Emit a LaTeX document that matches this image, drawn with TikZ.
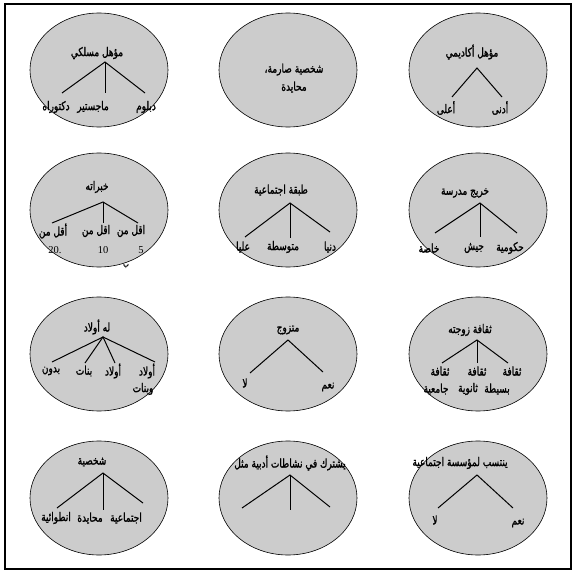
\documentclass[tikz,border=0pt]{standalone}
\usepackage{fontspec}
\setmainfont{Liberation Serif}
\newfontfamily\arabicfont[Script=Arabic,FakeStretch=0.75,FakeBold=1.3]{DejaVu Sans}
\TeXXeTstate=1
\usetikzlibrary{shapes.geometric}
\newcommand{\artxt}[1]{{\arabicfont\beginR #1\endR}}

\begin{document}
\begin{tikzpicture}[x=1pt,y=-1pt,
  cell/.style={ellipse,draw,line width=0.6pt,fill=black!20,minimum width=138pt,minimum height=114pt,inner sep=0pt},
  head/.style={font=\fontsize{12}{13}\selectfont,inner sep=1pt},
  leaf/.style={font=\fontsize{12}{13}\selectfont,inner sep=1pt},
  num/.style={font=\fontsize{10.5}{12}\selectfont,inner sep=1pt},
  branch/.style={line width=1pt},
  stem/.style={line width=0.6pt}]
  \useasboundingbox (0,0) rectangle (576,575);
  \draw[line width=1.3pt] (5,4) rectangle (571,569);

  % row 1
  \node[cell] (c1) at (99,70) {};
  \node[head] (t1) at (97,53) {\artxt{مؤهل مسلكي}};
  \coordinate (a1) at (105,62);
  \coordinate (e1a) at (62,93);
  \coordinate (e1b) at (105,93);
  \coordinate (e1c) at (145,93);
  \draw[branch] (e1a) -- (a1) -- (e1c);
  \draw[stem] (a1) -- (e1b);
  \node[leaf] (l1a) at (56,107) {\artxt{دكتوراه}};
  \node[leaf] (l1b) at (93,107) {\artxt{ماجستير}};
  \node[leaf] (l1c) at (146,107) {\artxt{دبلوم}};

  \node[cell] (c2) at (288,70) {};
  \node[head,align=center] (t2) at (294,78) {\artxt{شخصية صارمة،}\\[5pt]\artxt{محايدة}};

  \node[cell] (c3) at (478,70) {};
  \node[head] (t3) at (472,52) {\artxt{مؤهل أكاديمي}};
  \coordinate (a3) at (477,68);
  \coordinate (e3a) at (452,97);
  \coordinate (e3b) at (502,97);
  \draw[branch] (e3a) -- (a3) -- (e3b);
  \node[leaf] (l3a) at (446,108) {\artxt{أعلى}};
  \node[leaf] (l3b) at (500,108) {\artxt{أدنى}};

  % row 2
  \node[cell] (c4) at (99,210) {};
  \node[head] (t4) at (97,187) {\artxt{خبراته}};
  \coordinate (a4) at (103,202);
  \coordinate (e4a) at (52,223);
  \coordinate (e4b) at (103,223);
  \coordinate (e4c) at (138,223);
  \draw[branch] (e4a) -- (a4) -- (e4c);
  \draw[stem] (a4) -- (e4b);
  \node[leaf] (l4a) at (53,231) {\artxt{أقل من}};
  \node[leaf] (l4b) at (96,231) {\artxt{اقل من}};
  \node[leaf] (l4c) at (131,231) {\artxt{اقل من}};
  \node[num] (n4a) at (55,250) {20.};
  \node[num] (n4b) at (103,250) {10};
  \node[num] (n4c) at (141,250) {5};
  \node[leaf,font=\fontsize{8}{9}\selectfont] (n4d) at (126,266) {\artxt{ب}};

  \node[cell] (c5) at (288,210) {};
  \node[head] (t5) at (281,190) {\artxt{طبقة اجتماعية}};
  \coordinate (a5) at (290,203);
  \coordinate (e5a) at (245,237);
  \coordinate (e5b) at (290,238);
  \coordinate (e5c) at (330,232);
  \draw[branch] (e5a) -- (a5) -- (e5c);
  \draw[stem] (a5) -- (e5b);
  \node[leaf] (l5a) at (243,247) {\artxt{عليا}};
  \node[leaf] (l5b) at (283,247) {\artxt{متوسطة}};
  \node[leaf] (l5c) at (330,247) {\artxt{دنيا}};

  \node[cell] (c6) at (478,210) {};
  \node[head] (t6) at (465,193) {\artxt{خريج مدرسة}};
  \coordinate (a6) at (480,203);
  \coordinate (e6a) at (435,233);
  \coordinate (e6b) at (480,237);
  \coordinate (e6c) at (517,233);
  \draw[branch] (e6a) -- (a6) -- (e6c);
  \draw[stem] (a6) -- (e6b);
  \node[leaf] (l6a) at (429,248) {\artxt{خاصة}};
  \node[leaf] (l6b) at (474,248) {\artxt{جيش}};
  \node[leaf] (l6c) at (510,248) {\artxt{حكومية}};

  % row 3
  \node[cell] (c7) at (99,354) {};
  \node[head] (t7) at (97,327) {\artxt{له أولاد}};
  \coordinate (a7) at (103,337);
  \coordinate (e7a) at (52,362);
  \coordinate (e7b) at (85,363);
  \coordinate (e7c) at (115,363);
  \coordinate (e7d) at (155,362);
  \draw[branch] (e7a) -- (a7) -- (e7d);
  \draw[branch] (e7b) -- (a7) -- (e7c);
  \node[leaf] (l7a) at (51,371) {\artxt{بدون}};
  \node[leaf] (l7b) at (84,371) {\artxt{بنات}};
  \node[leaf] (l7c) at (113,371) {\artxt{أولاد}};
  \node[leaf] (l7d) at (147,371) {\artxt{أولاد}};
  \node[leaf] (l7e) at (143,389) {\artxt{وبنات}};

  \node[cell] (c8) at (288,354) {};
  \node[head] (t8) at (288,330) {\artxt{متزوج}};
  \coordinate (a8) at (288,340);
  \coordinate (e8a) at (250,373);
  \coordinate (e8b) at (323,372);
  \draw[branch] (e8a) -- (a8) -- (e8b);
  \node[leaf] (l8a) at (245,383) {\artxt{لا}};
  \node[leaf] (l8b) at (328,387) {\artxt{نعم}};

  \node[cell] (c9) at (478,354) {};
  \node[head] (t9) at (470,330) {\artxt{ثقافة زوجته}};
  \coordinate (a9) at (477,340);
  \coordinate (e9a) at (442,363);
  \coordinate (e9b) at (477,363);
  \coordinate (e9c) at (508,363);
  \draw[branch] (e9a) -- (a9) -- (e9c);
  \draw[stem] (a9) -- (e9b);
  \node[leaf] (l9a) at (440,371) {\artxt{ثقافة}};
  \node[leaf] (l9b) at (477,371) {\artxt{ثقافة}};
  \node[leaf] (l9c) at (512,371) {\artxt{ثقافة}};
  \node[leaf] (l9d) at (436,389) {\artxt{جامعية}};
  \node[leaf] (l9e) at (468,389) {\artxt{ثانوية}};
  \node[leaf] (l9f) at (497,389) {\artxt{بسيطة}};

  % row 4
  \node[cell] (c10) at (99,498) {};
  \node[head] (t10) at (92,462) {\artxt{شخصية}};
  \coordinate (a10) at (103,473);
  \coordinate (e10a) at (57,508);
  \coordinate (e10b) at (103,510);
  \coordinate (e10c) at (143,503);
  \draw[branch] (e10a) -- (a10) -- (e10c);
  \draw[stem] (a10) -- (e10b);
  \node[leaf] (l10a) at (56,518) {\artxt{انطوائية}};
  \node[leaf] (l10b) at (90,518) {\artxt{محايدة}};
  \node[leaf] (l10c) at (126,518) {\artxt{اجتماعية}};

  \node[cell] (c11) at (288,498) {};
  \node[head] (t11) at (290,463) {\artxt{يشترك في نشاطات أدبية مثل}};
  \coordinate (a11) at (290,475);
  \coordinate (e11a) at (242,508);
  \coordinate (e11b) at (290,510);
  \coordinate (e11c) at (330,507);
  \draw[branch] (e11a) -- (a11) -- (e11c);
  \draw[stem] (a11) -- (e11b);

  \node[cell] (c12) at (478,498) {};
  \node[head] (t12) at (460,463) {\artxt{ينتسب لمؤسسة اجتماعية}};
  \coordinate (a12) at (477,475);
  \coordinate (e12a) at (438,508);
  \coordinate (e12b) at (513,508);
  \draw[branch] (e12a) -- (a12) -- (e12b);
  \node[leaf] (l12a) at (435,520) {\artxt{لا}};
  \node[leaf] (l12b) at (518,523) {\artxt{نعم}};
\end{tikzpicture}
\end{document}
